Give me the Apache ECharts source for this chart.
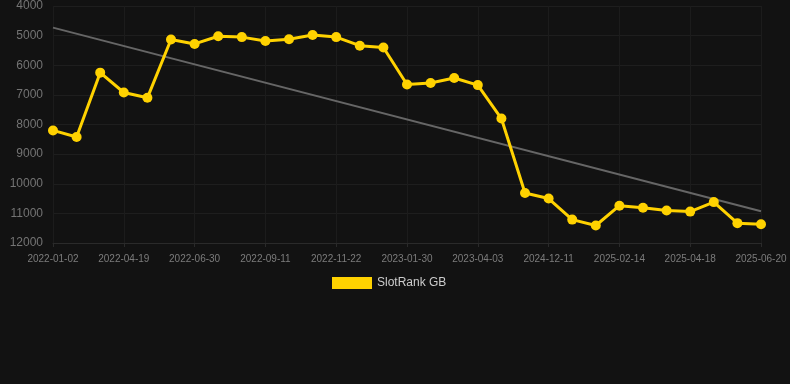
<!DOCTYPE html>
<html>
<head>
<meta charset="utf-8">
<script src="https://cdn.jsdelivr.net/npm/echarts@6/dist/echarts.min.js"></script>
<style>
html,body{margin:0;padding:0;background:#121212;}
#chart{width:790px;height:384px;}
</style>
</head>
<body>
<div id="chart"></div>
<script>
var categories = [
  '2022-01-02','2022-02-13','2022-03-18','2022-04-19','2022-05-14','2022-06-05',
  '2022-06-30','2022-07-26','2022-08-18','2022-09-11','2022-10-06','2022-10-29',
  '2022-11-22','2022-12-17','2023-01-07','2023-01-30','2023-02-20','2023-03-13',
  '2023-04-03','2023-05-01','2024-11-15','2024-12-11','2025-01-03','2025-01-24',
  '2025-02-14','2025-03-07','2025-03-28','2025-04-18','2025-05-09','2025-05-30',
  '2025-06-20'
];
var rankValues = [
  8200, 8420, 6250, 6920, 7100, 5130,
  5280, 5020, 5050, 5180, 5120, 4980,
  5050, 5340, 5400, 6650, 6600, 6430,
  6670, 7800, 10310, 10500, 11210, 11410,
  10740, 10810, 10900, 10940, 10620, 11330,
  11370
];
var seriesName = 'SlotRank GB';
var yTicks = [4000, 5000, 6000, 7000, 8000, 9000, 10000, 11000, 12000];

// linear regression trend over the series
var n = rankValues.length, sx = 0, sy = 0, sxy = 0, sxx = 0;
for (var i = 0; i < n; i++) { sx += i; sy += rankValues[i]; sxy += i * rankValues[i]; sxx += i * i; }
var slope = (n * sxy - sx * sy) / (n * sxx - sx * sx);
var intercept = (sy - slope * sx) / n;
var trendData = [[0, intercept], [n - 1, intercept + slope * (n - 1)]];

var chart = echarts.init(document.getElementById('chart'), null, {renderer: 'canvas'});
chart.setOption({
  backgroundColor: '#121212',
  animation: false,
  grid: {left: 53, right: 29, top: 6, bottom: 141, containLabel: false},
  legend: {
    data: [seriesName],
    left: 327,
    top: 272,
    itemWidth: 40,
    itemHeight: 12,
    itemGap: 6,
    icon: 'rect',
    textStyle: {color: '#cccccc', fontSize: 12, fontFamily: 'Liberation Sans, Arial, sans-serif'}
  },
  xAxis: {
    type: 'category',
    data: categories,
    boundaryGap: false,
    axisLine: {show: true, lineStyle: {color: '#2a2a2a'}},
    axisTick: {show: true, interval: 2, length: 4, lineStyle: {color: '#2a2a2a'}},
    axisLabel: {interval: 2, color: '#7c7c7c', fontSize: 10, margin: 11, fontFamily: 'Liberation Sans, Arial, sans-serif'},
    splitLine: {show: true, interval: 2, lineStyle: {color: '#1c1c1c', width: 1}}
  },
  yAxis: {
    type: 'value',
    inverse: true,
    min: yTicks[0],
    max: yTicks[yTicks.length - 1],
    interval: 1000,
    axisLine: {show: false},
    axisTick: {show: false},
    axisLabel: {color: '#747474', fontSize: 12, margin: 10, fontFamily: 'Liberation Sans, Arial, sans-serif',
      formatter: function (v) { return String(v); }},
    splitLine: {show: true, lineStyle: {color: '#1e1e1e', width: 1}}
  },
  series: [
    {
      name: 'trend',
      type: 'line',
      data: trendData,
      symbol: 'none',
      lineStyle: {color: '#666666', width: 2},
      z: 1,
      silent: true
    },
    {
      name: seriesName,
      type: 'line',
      data: rankValues,
      symbol: 'circle',
      symbolSize: 10,
      itemStyle: {color: '#FFD200'},
      lineStyle: {color: '#FFD200', width: 3},
      z: 2
    }
  ]
});
</script>
</body>
</html>
